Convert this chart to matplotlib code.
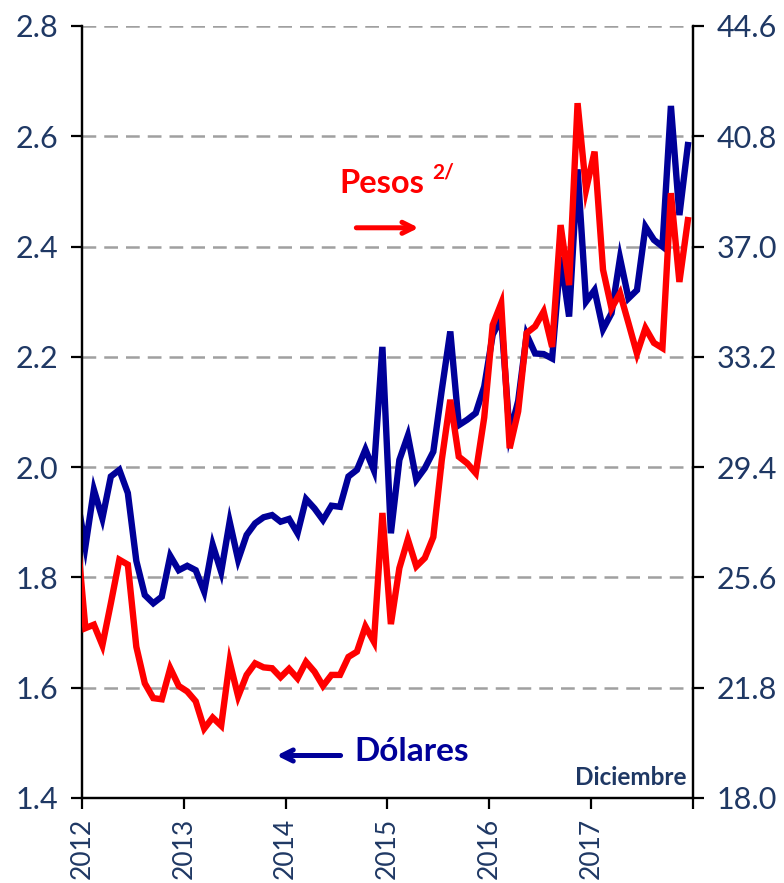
import numpy as np
import matplotlib
matplotlib.use("Agg")
import matplotlib.pyplot as plt

plt.rcParams['font.family'] = ['Lato', 'DejaVu Sans']

# monthly values, Dec 2011 .. Dec 2017 (first value only feeds the clipped lead-in)
dolares = [1.945,
           1.856, 1.959, 1.907, 1.983, 1.995, 1.953, 1.830, 1.768, 1.753, 1.765, 1.839, 1.813,
           1.821, 1.813, 1.774, 1.859, 1.810, 1.901, 1.832, 1.877, 1.898, 1.909, 1.913, 1.901,
           1.906, 1.880, 1.942, 1.925, 1.904, 1.930, 1.928, 1.983, 1.995, 2.032, 1.994, 2.218,
           1.880, 2.013, 2.057, 1.977, 1.998, 2.028, 2.140, 2.246, 2.076, 2.086, 2.098, 2.146,
           2.240, 2.270, 2.060, 2.120, 2.240, 2.206, 2.205, 2.197, 2.381, 2.273, 2.540, 2.300,
           2.321, 2.250, 2.279, 2.379, 2.306, 2.321, 2.436, 2.412, 2.400, 2.655, 2.457, 2.584]

pesos = [27.12,
         23.85, 23.97, 23.26, 24.71, 26.21, 26.04, 23.21, 21.95, 21.44, 21.40, 22.47, 21.86,
         21.67, 21.33, 20.39, 20.77, 20.49, 22.69, 21.50, 22.24, 22.64, 22.50, 22.47, 22.16,
         22.45, 22.12, 22.69, 22.35, 21.86, 22.24, 22.24, 22.86, 23.04, 23.91, 23.38, 27.82,
         23.99, 25.92, 26.91, 25.98, 26.27, 26.99, 29.65, 31.72, 29.76, 29.53, 29.19, 31.11,
         34.30, 35.04, 30.05, 31.32, 34.02, 34.25, 34.76, 33.54, 37.74, 35.67, 41.94, 38.96,
         40.27, 36.20, 34.87, 35.39, 34.36, 33.31, 34.19, 33.68, 33.50, 38.84, 35.78, 37.91]

years = ['2012', '2013', '2014', '2015', '2016', '2017']
left_ticks = [1.4, 1.6, 1.8, 2.0, 2.2, 2.4, 2.6, 2.8]
right_ticks = [18.0, 21.8, 25.6, 29.4, 33.2, 37.0, 40.8, 44.6]

navy = '#000099'
red = '#FF0000'
text_col = '#1F3864'

x = np.arange(-1, len(dolares) - 1) + 0.4

fig = plt.figure(figsize=(7.84, 8.83), dpi=100)
ax = fig.add_axes([0.1046, 0.0963, 0.7793, 0.8743])
ax2 = ax.twinx()

# grid lines (dashed, gray)
for v in left_ticks[1:]:
    ax.axhline(v, color='#A0A0A0', lw=1.8, ls=(0, (5.5, 3.2)), zorder=1)

ax.plot(x, dolares, color=navy, lw=4.6, zorder=3, solid_joinstyle='miter')
ax2.plot(x, pesos, color=red, lw=4.6, zorder=3, solid_joinstyle='miter')

ax.set_xlim(0, 72)
ax.set_ylim(1.4, 2.8)
ax2.set_ylim(18.0, 44.6)

ax.set_yticks(left_ticks)
ax.set_yticklabels(['%.1f' % v for v in left_ticks])
ax2.set_yticks(right_ticks)
ax2.set_yticklabels(['%.1f' % v for v in right_ticks])

ax.set_xticks(np.arange(0, 73, 12))
ax.set_xticklabels(years + [''], rotation=90)

for a in (ax, ax2):
    a.spines['top'].set_visible(False)
    for s in ('left', 'right', 'bottom'):
        a.spines[s].set_linewidth(1.6)
        a.spines[s].set_color('black')

ax.tick_params(axis='y', length=8, width=1.6, labelsize=22, labelcolor=text_col, pad=9)
ax2.tick_params(axis='y', length=8, width=1.6, labelsize=22, labelcolor=text_col, pad=9)
ax.tick_params(axis='x', length=8, width=1.6, labelsize=19, labelcolor=text_col, pad=6)

# annotations
ax.text(35.3, 2.515, 'Pesos', color=red, fontsize=23.5, fontweight='bold',
        ha='center', va='center')
ax.text(42.6, 2.535, '2/', color=red, fontsize=15, fontweight='bold',
        ha='center', va='center')
ax.annotate('', xy=(40.0, 2.434), xytext=(32.0, 2.434),
            arrowprops=dict(arrowstyle='->,head_length=0.8,head_width=0.4',
                            color=red, lw=3.6))

ax.text(38.9, 1.484, 'Dólares', color=navy, fontsize=24, fontweight='bold',
        ha='center', va='center')
ax.annotate('', xy=(22.6, 1.477), xytext=(30.8, 1.477),
            arrowprops=dict(arrowstyle='->,head_length=0.8,head_width=0.4',
                            color=navy, lw=3.6))

ax.text(71.2, 1.438, 'Diciembre', color=text_col, fontsize=17.5, fontweight='bold',
        ha='right', va='center')

fig.savefig('out.png', dpi=100)
